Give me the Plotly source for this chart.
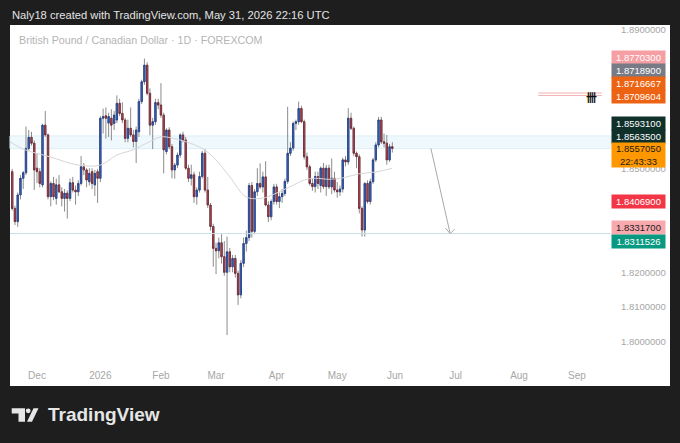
import plotly.graph_objects as go
import pandas as pd

W, H = 680, 443

# ---------------- data ----------------
CALENDAR_START = "2025-11-17"
CALENDAR_END = "2026-09-30"
FIRST_BAR = "2025-11-18"

OPEN = [1.8490, 1.8384, 1.8346, 1.8423, 1.8471, 1.8487, 1.8557, 1.8589, 1.8572,
        1.8500, 1.8490, 1.8452, 1.8624, 1.8596, 1.8418, 1.8456, 1.8413, 1.8452, 1.8432,
        1.8413, 1.8428, 1.8413, 1.8458, 1.8437, 1.8432, 1.8456, 1.8504, 1.8495, 1.8461,
        1.8490, 1.8452, 1.8490, 1.8471, 1.8644, 1.8651, 1.8630, 1.8644, 1.8629, 1.8639,
        1.8687, 1.8658, 1.8639, 1.8586, 1.8615, 1.8596, 1.8577, 1.8605, 1.8692, 1.8749,
        1.8797, 1.8716, 1.8624, 1.8634, 1.8689, 1.8682, 1.8653, 1.8548, 1.8610, 1.8562,
        1.8495, 1.8509, 1.8538, 1.8596, 1.8581, 1.8500, 1.8471, 1.8481, 1.8418, 1.8437,
        1.8476, 1.8543, 1.8437, 1.8394, 1.8332, 1.8269, 1.8262, 1.8285, 1.8245, 1.8200,
        1.8259, 1.8216, 1.8240, 1.8197, 1.8135, 1.8226, 1.8283, 1.8300, 1.8450, 1.8318,
        1.8432, 1.8456, 1.8446, 1.8475, 1.8394, 1.8360, 1.8404, 1.8446, 1.8404, 1.8418,
        1.8427, 1.8462, 1.8543, 1.8558, 1.8629, 1.8634, 1.8672, 1.8634, 1.8533, 1.8504,
        1.8456, 1.8447, 1.8476, 1.8450, 1.8500, 1.8447, 1.8500, 1.8446, 1.8471, 1.8437,
        1.8432, 1.8440, 1.8524, 1.8518, 1.8644, 1.8615, 1.8543, 1.8533, 1.8384, 1.8322,
        1.8456, 1.8404, 1.8461, 1.8524, 1.8567, 1.8639, 1.8576, 1.8572, 1.8524, 1.8562]
HIGH = [1.8498, 1.8392, 1.8430, 1.8480, 1.8492, 1.8620, 1.8610, 1.8605, 1.8580,
        1.8543, 1.8500, 1.8628, 1.8665, 1.8600, 1.8462, 1.8475, 1.8470, 1.8480, 1.8445,
        1.8440, 1.8436, 1.8470, 1.8475, 1.8450, 1.8465, 1.8535, 1.8515, 1.8500, 1.8500,
        1.8500, 1.8495, 1.8498, 1.8650, 1.8672, 1.8675, 1.8660, 1.8670, 1.8665, 1.8710,
        1.8700, 1.8690, 1.8645, 1.8640, 1.8675, 1.8610, 1.8620, 1.8700, 1.8755, 1.8816,
        1.8805, 1.8730, 1.8645, 1.8700, 1.8700, 1.8745, 1.8660, 1.8615, 1.8618, 1.8570,
        1.8515, 1.8545, 1.8600, 1.8605, 1.8590, 1.8510, 1.8510, 1.8490, 1.8445, 1.8490,
        1.8550, 1.8555, 1.8475, 1.8400, 1.8340, 1.8285, 1.8300, 1.8310, 1.8290, 1.8303,
        1.8270, 1.8250, 1.8250, 1.8205, 1.8235, 1.8300, 1.8320, 1.8458, 1.8460, 1.8440,
        1.8500, 1.8514, 1.8490, 1.8520, 1.8405, 1.8410, 1.8455, 1.8455, 1.8430, 1.8440,
        1.8470, 1.8677, 1.8575, 1.8635, 1.8640, 1.8692, 1.8680, 1.8640, 1.8545, 1.8510,
        1.8470, 1.8490, 1.8490, 1.8505, 1.8515, 1.8510, 1.8510, 1.8528, 1.8490, 1.8460,
        1.8450, 1.8530, 1.8535, 1.8673, 1.8660, 1.8620, 1.8548, 1.8540, 1.8390, 1.8460,
        1.8465, 1.8470, 1.8530, 1.8575, 1.8648, 1.8648, 1.8600, 1.8596, 1.8570, 1.8575]
LOW = [1.8378, 1.8336, 1.8331, 1.8410, 1.8440, 1.8480, 1.8550, 1.8565, 1.8437,
       1.8457, 1.8445, 1.8445, 1.8590, 1.8410, 1.8390, 1.8408, 1.8395, 1.8428, 1.8390,
       1.8375, 1.8355, 1.8405, 1.8430, 1.8395, 1.8420, 1.8450, 1.8480, 1.8445, 1.8450,
       1.8440, 1.8420, 1.8400, 1.8460, 1.8600, 1.8585, 1.8590, 1.8580, 1.8610, 1.8630,
       1.8650, 1.8630, 1.8575, 1.8575, 1.8590, 1.8560, 1.8515, 1.8590, 1.8685, 1.8740,
       1.8710, 1.8595, 1.8555, 1.8625, 1.8670, 1.8645, 1.8485, 1.8540, 1.8555, 1.8471,
       1.8470, 1.8500, 1.8530, 1.8575, 1.8495, 1.8460, 1.8450, 1.8400, 1.8395, 1.8430,
       1.8470, 1.8430, 1.8385, 1.8320, 1.8216, 1.8195, 1.8240, 1.8225, 1.8190, 1.8019,
       1.8200, 1.8200, 1.8185, 1.8106, 1.8125, 1.8215, 1.8260, 1.8290, 1.8300, 1.8310,
       1.8420, 1.8440, 1.8430, 1.8390, 1.8345, 1.8350, 1.8395, 1.8395, 1.8385, 1.8400,
       1.8420, 1.8455, 1.8535, 1.8550, 1.8610, 1.8625, 1.8630, 1.8525, 1.8495, 1.8450,
       1.8435, 1.8430, 1.8440, 1.8430, 1.8440, 1.8420, 1.8440, 1.8425, 1.8430, 1.8415,
       1.8420, 1.8430, 1.8505, 1.8510, 1.8610, 1.8535, 1.8500, 1.8370, 1.8303, 1.8303,
       1.8398, 1.8395, 1.8455, 1.8518, 1.8560, 1.8570, 1.8560, 1.8510, 1.8518, 1.8545]
CLOSE = [1.8384, 1.8346, 1.8423, 1.8471, 1.8487, 1.8557, 1.8589, 1.8572, 1.8495,
         1.8490, 1.8456, 1.8624, 1.8596, 1.8418, 1.8456, 1.8418, 1.8452, 1.8432, 1.8413,
         1.8428, 1.8413, 1.8458, 1.8437, 1.8432, 1.8456, 1.8504, 1.8495, 1.8466, 1.8485,
         1.8456, 1.8485, 1.8471, 1.8644, 1.8649, 1.8644, 1.8649, 1.8624, 1.8653, 1.8687,
         1.8658, 1.8639, 1.8586, 1.8615, 1.8596, 1.8577, 1.8610, 1.8692, 1.8749, 1.8797,
         1.8716, 1.8624, 1.8634, 1.8689, 1.8682, 1.8653, 1.8553, 1.8610, 1.8562, 1.8495,
         1.8509, 1.8538, 1.8596, 1.8581, 1.8500, 1.8471, 1.8481, 1.8418, 1.8437, 1.8476,
         1.8543, 1.8437, 1.8394, 1.8332, 1.8269, 1.8262, 1.8285, 1.8245, 1.8200, 1.8259,
         1.8216, 1.8240, 1.8197, 1.8135, 1.8226, 1.8283, 1.8300, 1.8450, 1.8318, 1.8432,
         1.8456, 1.8446, 1.8475, 1.8394, 1.8360, 1.8404, 1.8446, 1.8404, 1.8418, 1.8427,
         1.8462, 1.8543, 1.8558, 1.8629, 1.8634, 1.8672, 1.8634, 1.8533, 1.8504, 1.8456,
         1.8447, 1.8476, 1.8456, 1.8500, 1.8447, 1.8500, 1.8446, 1.8471, 1.8437, 1.8432,
         1.8440, 1.8524, 1.8518, 1.8644, 1.8615, 1.8543, 1.8533, 1.8384, 1.8322, 1.8456,
         1.8404, 1.8461, 1.8524, 1.8567, 1.8639, 1.8576, 1.8572, 1.8524, 1.8562, 1.855705]

MA_DATES = ["2025-11-17", "2025-11-24", "2025-12-08", "2025-12-22", "2026-01-01",
            "2026-01-09", "2026-01-19", "2026-01-26", "2026-02-02", "2026-02-06",
            "2026-02-20", "2026-02-27", "2026-03-09", "2026-03-17", "2026-03-25",
            "2026-03-31", "2026-04-09", "2026-04-15", "2026-04-21", "2026-04-28",
            "2026-05-05", "2026-05-13", "2026-05-21", "2026-05-29"]
MA_VALUES = [1.8577, 1.8555, 1.8532, 1.8509, 1.8509, 1.8538, 1.8553, 1.8573, 1.8590,
             1.8587, 1.8561, 1.8532, 1.8475, 1.8417, 1.8414, 1.8425, 1.8451, 1.8466,
             1.8471, 1.8468, 1.8472, 1.8484, 1.8489, 1.8500]

MONTH_TICK_DATES = ["2025-12-01", "2026-01-01", "2026-02-02", "2026-03-02", "2026-04-01",
                    "2026-05-01", "2026-06-01", "2026-07-01", "2026-08-03", "2026-09-01"]
MONTH_TICK_TEXT = ["Dec", "2026", "Feb", "Mar", "Apr", "May", "Jun", "Jul", "Aug", "Sep"]

# price-scale ticks that are not hidden behind the price labels
PRICE_TICKS = [1.80, 1.81, 1.82, 1.85, 1.89]

ZONE = (1.85563, 1.85931)
SUPPORT_LEVEL = 1.8311526
TARGET_LEVELS = [1.8716667, 1.8709604]
TARGET_DATES = ("2026-08-12", "2026-09-14")
ARROW_DATES = ["2026-06-18", "2026-06-29"]
ARROW_PRICES = [1.8557, 1.8311526]

LABEL_TEXT = ["1.8770300", "1.8718900", "1.8716667", "1.8709604", "1.8593100",
              "1.8563500", "1.8557050<br>22:43:33", "1.8406900", "1.8331700", "1.8311526"]
LABEL_BG = ["#f59ea4", "#787b86", "#ec6413", "#ec6413", "#10302a",
            "#10302a", "#ff9800", "#f23645", "#f7a9ae", "#089981"]
LABEL_FG = ["#ffffff", "#ffffff", "#ffffff", "#ffffff", "#ffffff",
            "#ffffff", "#1c1c1c", "#ffffff", "#1c1c1c", "#ffffff"]
LABEL_YPX = [57.5, 70.5, 83.5, 96.5, 123.5, 136.5, 155, 201, 227.5, 241]
LABEL_HPX = [13, 13, 13, 13, 13, 13, 24, 13, 13, 13]

# ---------------- layout helpers ----------------
calendar = pd.bdate_range(CALENDAR_START, CALENDAR_END)
pos = {d.strftime("%Y-%m-%d"): i for i, d in enumerate(calendar)}
start = pos[FIRST_BAR]
xs = list(range(start, start + len(OPEN)))

def px_x(p):
    return p / W

def px_y(p):
    return 1 - p / H

FONT = "Liberation Sans"
DARK = "#1e1e1e"
PLOT_L, PLOT_R = 10, 608

fig = go.Figure()

# wicks (gray)
fig.add_trace(go.Candlestick(
    x=xs, open=OPEN, high=HIGH, low=LOW, close=CLOSE,
    increasing=dict(line=dict(color="#8c8c8c", width=1), fillcolor="#8c8c8c"),
    decreasing=dict(line=dict(color="#8c8c8c", width=1), fillcolor="#8c8c8c"),
    whiskerwidth=0, showlegend=False, hoverinfo="skip"))
# bodies
body_hi = [max(o, c) for o, c in zip(OPEN, CLOSE)]
body_lo = [min(o, c) for o, c in zip(OPEN, CLOSE)]
fig.add_trace(go.Candlestick(
    x=xs, open=OPEN, high=body_hi, low=body_lo, close=CLOSE,
    increasing=dict(line=dict(color="#213c85", width=0.8), fillcolor="#3d6dd0"),
    decreasing=dict(line=dict(color="#6e2530", width=0.8), fillcolor="#c4505c"),
    whiskerwidth=0, showlegend=False, hoverinfo="skip"))

# moving average
fig.add_trace(go.Scatter(
    x=[pos[d] for d in MA_DATES], y=MA_VALUES, mode="lines",
    line=dict(color="#d6d6d6", width=1, shape="spline", smoothing=1.0),
    showlegend=False, hoverinfo="skip"))

# arrow
ax = [pos[d] for d in ARROW_DATES]
fig.add_trace(go.Scatter(x=ax, y=ARROW_PRICES, mode="lines",
                         line=dict(color="#a9a9a9", width=1),
                         showlegend=False, hoverinfo="skip"))

shapes = []
# white panel
shapes.append(dict(type="rect", xref="paper", yref="paper",
                   x0=px_x(10), x1=px_x(670), y0=px_y(386), y1=px_y(25),
                   fillcolor="#ffffff", line=dict(width=0), layer="below"))
# zone
shapes.append(dict(type="rect", xref="paper", yref="y", x0=px_x(PLOT_L), x1=px_x(PLOT_R + 3),
                   y0=ZONE[0], y1=ZONE[1], fillcolor="rgba(190,228,242,0.25)",
                   line=dict(color="#dcf0f6", width=1), layer="below"))
# support line
shapes.append(dict(type="line", xref="paper", yref="y", x0=px_x(PLOT_L), x1=px_x(PLOT_R + 3),
                   y0=SUPPORT_LEVEL, y1=SUPPORT_LEVEL,
                   line=dict(color="#c9dde8", width=1)))
# target lines
for lv in TARGET_LEVELS:
    shapes.append(dict(type="line", xref="x", yref="y",
                       x0=pos[TARGET_DATES[0]], x1=pos[TARGET_DATES[1]], y0=lv, y1=lv,
                       line=dict(color="#f2b3b3", width=1)))
# TradingView logo
lg = [
    "M %f %f L %f %f L %f %f L %f %f L %f %f L %f %f Z" % (
        px_x(11.7), px_y(408.3), px_x(25), px_y(408.3), px_x(25), px_y(421.7),
        px_x(18.5), px_y(421.7), px_x(18.5), px_y(413.5), px_x(11.7), px_y(413.5)),
    "M %f %f L %f %f L %f %f L %f %f Z" % (
        px_x(27), px_y(421.7), px_x(32), px_y(421.7), px_x(38.5), px_y(408.3),
        px_x(33.5), px_y(408.3)),
]
for p in lg:
    shapes.append(dict(type="path", xref="paper", yref="paper", path=p,
                       fillcolor="#e6e6e6", line=dict(width=0)))
shapes.append(dict(type="circle", xref="paper", yref="paper",
                   x0=px_x(25.8), x1=px_x(30.6), y0=px_y(413.2), y1=px_y(408.4),
                   fillcolor="#e6e6e6", line=dict(width=0)))

annotations = []
# open arrow head
annotations.append(dict(x=ax[1], y=ARROW_PRICES[1], xref="x", yref="y",
                        ax=-6, ay=-7, text="",
                        showarrow=True, arrowhead=0, arrowwidth=1, arrowcolor="#a9a9a9"))
annotations.append(dict(x=ax[1], y=ARROW_PRICES[1], xref="x", yref="y",
                        ax=6, ay=-6, text="",
                        showarrow=True, arrowhead=0, arrowwidth=1, arrowcolor="#a9a9a9"))

annotations.append(dict(x=px_x(10), y=px_y(15), xref="paper", yref="paper",
                        xanchor="left", yanchor="middle", showarrow=False,
                        text="Naly18 created with TradingView.com, May 31, 2026 22:16 UTC",
                        font=dict(family=FONT, size=11.2, color="#e3e3e3")))
annotations.append(dict(x=px_x(17), y=px_y(40), xref="paper", yref="paper",
                        xanchor="left", yanchor="middle", showarrow=False,
                        text="British Pound / Canadian Dollar · 1D · FOREXCOM",
                        font=dict(family=FONT, size=10.7, color="#b4b4b4")))
annotations.append(dict(x=px_x(599), y=px_y(87), xref="paper", yref="paper",
                        showarrow=False, text="<b>卌</b>",
                        font=dict(family="Noto Sans CJK SC", size=11, color="#111111")))
annotations.append(dict(x=px_x(46), y=px_y(414), xref="paper", yref="paper",
                        xanchor="left", yanchor="middle", showarrow=False,
                        text="<b>TradingView</b>",
                        font=dict(family=FONT, size=19, color="#e6e6e6")))
for t, bg, fg, yc, hh in zip(LABEL_TEXT, LABEL_BG, LABEL_FG, LABEL_YPX, LABEL_HPX):
    annotations.append(dict(x=px_x(638.5), y=px_y(yc), xref="paper", yref="paper",
                            xanchor="center", yanchor="middle", showarrow=False,
                            text=t, bgcolor=bg, width=53, height=hh, borderpad=0,
                            font=dict(family=FONT, size=9.5, color=fg)))

fig.update_layout(
    width=W, height=H, margin=dict(l=0, r=0, t=0, b=0),
    paper_bgcolor=DARK, plot_bgcolor="rgba(0,0,0,0)",
    shapes=shapes, annotations=annotations, showlegend=False,
    xaxis=dict(domain=[px_x(PLOT_L), px_x(PLOT_R)],
               range=[pos["2025-12-01"] - 9.8, pos["2025-12-01"] + 207.3],
               tickvals=[pos[d] for d in MONTH_TICK_DATES], ticktext=MONTH_TICK_TEXT,
               showgrid=False, zeroline=False, showline=False, ticks="",
               ticklabelstandoff=6,
               rangeslider=dict(visible=False), fixedrange=True,
               tickfont=dict(family=FONT, size=10, color="#a6a6a6")),
    yaxis=dict(domain=[px_y(362), px_y(25)], range=[1.79415, 1.89127],
               side="right", tickvals=PRICE_TICKS,
               ticktext=["%.7f" % v for v in PRICE_TICKS],
               showgrid=False, zeroline=False, showline=False, ticks="",
               ticklabelstandoff=12,
               tickfont=dict(family=FONT, size=9.5, color="#a6a6a6")),
)

fig.write_html("out.html", config={"displayModeBar": False},
               post_script="document.body.style.margin='0px';"
                           "document.body.style.background='#1e1e1e';")
